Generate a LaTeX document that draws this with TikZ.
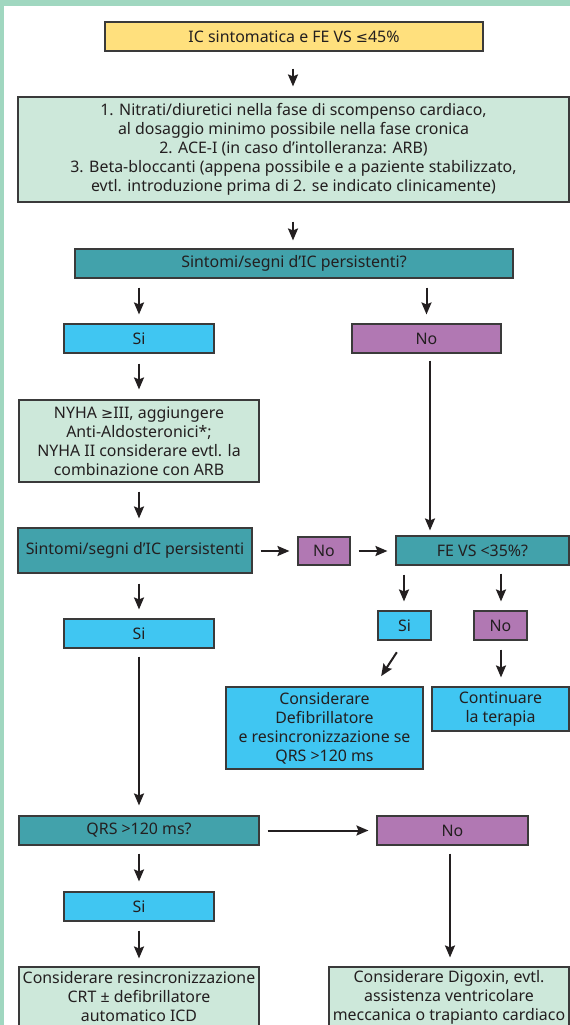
\documentclass[tikz,border=0pt]{standalone}
\usepackage{fontspec}
\setmainfont{Noto Sans}
\newfontfamily\symf{DejaVu Sans}
\usetikzlibrary{arrows.meta}
\definecolor{framec}{HTML}{A0D7C0}
\definecolor{yellowc}{HTML}{FFE07D}
\definecolor{paleg}{HTML}{CDE8DA}
\definecolor{tealc}{HTML}{42A2AB}
\definecolor{cyanc}{HTML}{40C6F2}
\definecolor{purpc}{HTML}{B178B3}
\definecolor{bordc}{HTML}{3A3A3A}
\definecolor{txtc}{HTML}{231F20}
\newcommand{\lesym}{{\symf\fontsize{14.5}{19}\selectfont ≤}}
\newcommand{\gesym}{{\symf\fontsize{14.5}{19}\selectfont ≥}}
\tikzset{
  box/.style={draw=bordc, line width=1.1pt, inner sep=0pt, align=center, text=txtc,
    font=\fontsize{15.9}{19}\selectfont},
  txt/.style={inner sep=0pt, align=center, text=txtc, font=\fontsize{15.9}{19}\selectfont},
  arr/.style={draw=txtc, line width=2pt, -{Stealth[length=12pt,width=10pt,inset=2pt]}}
}
\begin{document}
\begin{tikzpicture}[x=1pt,y=-1pt]
\useasboundingbox (0,0) rectangle (570,1025);
\clip (0,0) rectangle (570,1025);
\fill[white] (0,0) rectangle (570,1025);
\fill[framec] (0,0) rectangle (570,6);
\fill[framec] (0,0) rectangle (3.5,1025);

\node[box, fill=yellowc, minimum width=378pt, minimum height=29pt] (start) at (294,36.5) {IC sintomatica e FE VS \lesym45\%};
\node[box, fill=paleg, minimum width=551pt, minimum height=105pt] (ther) at (293.5,149.5)
  {1. Nitrati/diuretici nella fase di scompenso cardiaco,\\ al dosaggio minimo possibile nella fase cronica\\ 2. ACE-I (in caso d’intolleranza: ARB)\\ 3. Beta-bloccanti (appena possibile e a paziente stabilizzato,\\ evtl. introduzione prima di 2. se indicato clinicamente)};
\node[box, fill=tealc, minimum width=438pt, minimum height=29pt] (q1) at (294,263.5) {Sintomi/segni d’IC persistenti?};
\node[box, fill=cyanc, minimum width=150pt, minimum height=29pt] (si1) at (139,338.5) {Si};
\node[box, fill=purpc, minimum width=149pt, minimum height=29pt] (no1) at (426.5,338.5) {No};
\node[box, fill=paleg, minimum width=240pt, minimum height=82pt] (nyha) at (139,441) {NYHA \gesym III, aggiungere\\ Anti-Aldosteronici*;\\ NYHA II considerare evtl. la\\ combinazione con ARB};
\node[box, fill=tealc, minimum width=234pt, minimum height=45pt] (q2) at (135,550.5) {Sintomi/segni d’IC persistenti};
\node[box, fill=purpc, minimum width=52pt, minimum height=28pt] (no2) at (324,551) {No};
\node[box, fill=tealc, minimum width=173pt, minimum height=29pt] (fe) at (482.5,550.5) {FE VS <35\%?};
\node[box, fill=cyanc, minimum width=53pt, minimum height=29pt] (si3) at (404.5,625.5) {Si};
\node[box, fill=purpc, minimum width=53pt, minimum height=29pt] (no3) at (500.5,625.5) {No};
\node[box, fill=cyanc, minimum width=197pt, minimum height=82pt] (defib) at (324.5,728) {Considerare\\ Defibrillatore\\ e resincronizzazione se\\ QRS >120 ms};
\node[box, fill=cyanc, minimum width=137pt, minimum height=44pt] (cont) at (500.5,709) {Continuare\\ la terapia};
\node[box, fill=cyanc, minimum width=150pt, minimum height=29pt] (si2) at (139,633.5) {Si};
\node[box, fill=tealc, minimum width=240pt, minimum height=29pt] (qrs) at (139,830.5) {QRS >120 ms?};
\node[box, fill=purpc, minimum width=151pt, minimum height=29pt] (no4) at (452.5,830.5) {No};
\node[box, fill=cyanc, minimum width=150pt, minimum height=29pt] (si4) at (139,906.5) {Si};
\node[box, fill=paleg, minimum width=240pt, minimum height=66pt] (crt) at (139,1000) {};
\node[txt] (crtt) at (139,997) {Considerare resincronizzazione\\ CRT ± defibrillatore\\ automatico ICD};
\node[box, fill=paleg, minimum width=240pt, minimum height=66pt] (dig) at (449,1000) {};
\node[txt] (digt) at (449,997) {Considerare Digoxin, evtl.\\ assistenza ventricolare\\ meccanica o trapianto cardiaco};

\coordinate (c293) at (293,0);
\coordinate (c430) at (430,0);
\coordinate (c404) at (404,0);
\coordinate (c501) at (501,0);
\coordinate (c450) at (450,0);
\coordinate (dtop) at (374,687);

\draw[arr, shorten <=17pt, shorten >=10pt] (c293 |- start.south) -- (c293 |- ther.north);
\draw[arr, shorten <=19pt, shorten >=8pt] (c293 |- ther.south) -- (c293 |- q1.north);
\draw[arr, shorten <=9pt, shorten >=9pt] (si1.north |- q1.south) -- (si1.north);
\draw[arr, shorten <=9pt, shorten >=9pt] (no1.north |- q1.south) -- (no1.north);
\draw[arr, shorten <=10pt, shorten >=10pt] (si1.south) -- (nyha.north);
\draw[arr, shorten <=7pt, shorten >=5pt] (c430 |- no1.south) -- (c430 |- fe.north);
\draw[arr, shorten <=9pt, shorten >=9pt] (nyha.south) -- (si1.south |- q2.north);
\draw[arr, shorten <=8pt, shorten >=8pt] (q2.east |- no2.west) -- (no2.west);
\draw[arr, shorten <=8pt, shorten >=8pt] (no2.east) -- (fe.west |- no2.east);
\draw[arr, shorten <=9pt, shorten >=9pt] (c404 |- fe.south) -- (c404 |- si3.north);
\draw[arr, shorten <=8pt, shorten >=9pt] (c501 |- fe.south) -- (c501 |- no3.north);
\draw[arr, shorten <=14pt, shorten >=13pt] (si3.south) -- (dtop);
\draw[arr, shorten <=9pt, shorten >=9pt] (c501 |- no3.south) -- (c501 |- cont.north);
\draw[arr, shorten <=10pt, shorten >=9pt] (si1.south |- q2.south) -- (si2.north);
\draw[arr, shorten <=8pt, shorten >=10pt] (si2.south) -- (qrs.north);
\draw[arr, shorten <=8pt, shorten >=8pt] (qrs.east) -- (no4.west);
\draw[arr, shorten <=8pt, shorten >=10pt] (qrs.south) -- (si4.north);
\draw[arr, shorten <=9pt, shorten >=8pt] (si4.south) -- (crt.north);
\draw[arr, shorten <=8pt, shorten >=9pt] (c450 |- no4.south) -- (c450 |- dig.north);
\end{tikzpicture}
\end{document}
